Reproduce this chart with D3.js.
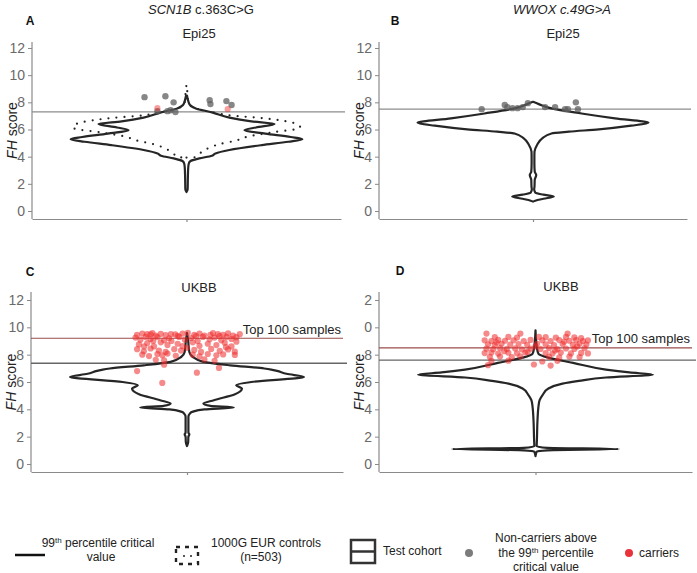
<!DOCTYPE html>
<html>
<head>
<meta charset="utf-8">
<script src="https://cdn.jsdelivr.net/npm/d3@7"></script>
<style>
  body { margin: 0; background: #fff; }
  svg { display: block; font-family: "Liberation Sans", Arial, sans-serif; }
</style>
</head>
<body>
<div id="chart"></div>
<script>
// ---- data ----
const yTicks = [0, 2, 4, 6, 8, 10, 12];
const tickLabels = ["0", "2", "4", "6", "8", "10", "12"];
const tickLabelsD = ["0", "2", "4", "6", "8", "0", "2"]; // labels are clipped in panel D

// violin outlines: [FH score, relative density]
const violinA = [[1.4,0],[1.6,0.01],[2.5,0.012],[3.2,0.015],[3.5,0.02],[3.68,0.035],[3.87,0.11],[4.07,0.22],[4.24,0.25],[4.49,0.37],[4.85,0.65],[5.1,0.88],[5.29,1.0],[5.45,0.9],[5.7,0.68],[5.95,0.5],[6.15,0.6],[6.4,0.76],[6.6,0.56],[6.87,0.37],[7.26,0.22],[7.55,0.08],[7.8,0.03],[8.1,0.015],[8.5,0.004]];
const controlsA = [[3.93,0],[3.97,0.08],[4.2,0.11],[4.5,0.16],[4.93,0.29],[5.17,0.42],[5.5,0.54],[5.8,0.75],[6.08,0.97],[6.2,0.98],[6.32,0.97],[6.62,0.85],[6.86,0.63],[7.03,0.38],[7.23,0.25],[7.45,0.12],[7.7,0.04],[8.0,0.015],[8.7,0.008],[9.3,0]];
const violinB = [[0.69,0],[0.76,0.02],[0.9,0.09],[1.06,0.18],[1.2,0.09],[1.35,0.02],[1.6,0.01],[1.79,0.013],[2.3,0.015],[2.65,0.028],[2.9,0.015],[3.5,0.012],[4.0,0.012],[4.37,0.013],[4.86,0.035],[5.35,0.08],[5.71,0.16],[5.84,0.31],[6.01,0.57],[6.28,0.85],[6.5,1.0],[6.82,0.71],[7.18,0.42],[7.55,0.16],[7.87,0.05],[8.04,0]];
const violinC = [[1.31,0],[1.6,0.01],[2.0,0.012],[2.16,0.02],[2.3,0.012],[3.45,0.012],[3.7,0.025],[3.83,0.05],[4.0,0.15],[4.14,0.4],[4.25,0.2],[4.42,0.14],[4.67,0.23],[5.1,0.41],[5.52,0.47],[5.77,0.42],[6.0,0.55],[6.37,1.0],[6.6,0.85],[6.81,0.77],[6.91,0.72],[6.99,0.66],[7.22,0.37],[7.47,0.14],[7.83,0.05],[8.2,0.02],[9.0,0.01],[9.6,0]];
const violinD = [[0.58,0],[0.9,0.01],[1.0,0.1],[1.09,0.71],[1.18,0.1],[1.3,0.01],[1.75,0.012],[3.2,0.017],[4.18,0.025],[4.67,0.035],[5.04,0.06],[5.52,0.11],[5.88,0.23],[6.08,0.37],[6.33,0.6],[6.54,1.0],[6.7,0.8],[6.91,0.6],[7.4,0.32],[7.78,0.11],[8.07,0.025],[8.5,0.012],[9.78,0]];

// 99th percentile critical values and top-100 cut-offs
const criticalValues = [7.3, 7.5, 7.37, 7.6];
const top100Values = [null, null, 9.2, 8.5];

// points: [horizontal jitter, FH score]
const nonCarriersA = [[-0.163,8.38],[-0.082,8.45],[-0.05,8.0],[0.09,8.16],[0.093,7.87],[0.155,8.09],[0.175,7.8],[-0.113,7.35],[-0.074,7.35],[-0.062,7.42],[-0.043,7.28]];
const carriersA = [[-0.113,7.57],[0.16,7.5]];
const nonCarriersB = [[-0.2,7.5],[-0.11,7.8],[-0.1,7.65],[-0.08,7.57],[-0.06,7.57],[-0.04,7.65],[-0.02,7.94],[0.047,7.65],[0.086,7.65],[0.125,7.5],[0.136,7.5],[0.167,8.0],[0.175,7.5]];
const carriersB = [];
const carriersC = [
  [-0.192,9.45],[-0.172,9.55],[-0.153,9.5],[-0.133,9.58],[-0.12,9.4],[-0.101,9.52],[-0.082,9.44],[-0.062,9.5],[-0.036,9.38],[-0.017,9.55],
  [0.003,9.6],[0.028,9.45],[0.048,9.55],[0.067,9.4],[0.1,9.58],[0.119,9.5],[0.139,9.45],[0.158,9.56],[0.177,9.4],[0.203,9.5],
  [-0.198,9.25],[-0.179,9.1],[-0.159,9.3],[-0.14,9.15],[-0.114,9.28],[-0.088,9.05],[-0.069,9.2],[-0.03,9.3],[-0.008,9.1],[0.016,9.22],
  [0.041,9.0],[0.061,9.3],[0.087,9.12],[0.106,9.25],[0.132,9.05],[0.152,9.3],[0.171,9.15],[0.19,9.28],
  [-0.185,8.75],[-0.153,8.85],[-0.127,8.6],[-0.101,8.9],[-0.075,8.7],[-0.036,8.8],[-0.017,8.62],[0.022,8.9],[0.048,8.65],[0.08,8.8],
  [0.113,8.7],[0.145,8.88],[0.171,8.6],[0.19,8.95],
  [-0.192,8.4],[-0.166,8.25],[-0.14,8.45],[-0.108,8.3],[-0.082,8.2],[-0.049,8.4],[-0.023,8.3],[0.028,8.35],[0.054,8.2],[0.093,8.42],
  [0.126,8.28],[0.158,8.38],[0.184,8.22],
  [-0.172,8.0],[-0.146,7.9],[-0.114,8.05],[-0.095,7.95],[-0.075,8.08],[-0.043,7.92],[0.022,8.0],[0.048,7.88],[0.08,8.05],[0.113,7.95],
  [0.139,8.02],[0.184,7.98],
  [-0.12,7.62],[-0.088,7.58],[0.067,7.65],[0.106,7.55],
  [-0.06,9.0],[0.0,8.5],[0.09,9.45],[-0.13,9.0],[0.15,8.55],[-0.165,8.6],[-0.045,9.48],[0.035,9.35],[-0.14,9.48],[0.125,9.35],
  [-0.192,6.8],[-0.095,5.93],[0.038,6.68],[0.123,7.03],[-0.088,7.27]
];
const carriersD = [
  [-0.188,9.54],[-0.058,9.54],[0.123,9.54],
  [-0.156,9.29],[-0.104,9.3],[-0.071,9.25],[0.013,9.3],[0.039,9.28],[0.078,9.25],[0.117,9.3],[0.149,9.27],[0.175,9.22],
  [-0.195,9.05],[-0.169,9.0],[-0.143,9.08],[-0.117,9.02],[-0.084,9.05],[-0.045,9.0],[-0.019,9.08],[0.026,9.05],[0.058,9.0],[0.091,9.07],
  [0.13,9.02],[0.156,9.06],[0.182,9.0],[0.201,9.04],
  [-0.182,8.76],[-0.156,8.7],[-0.13,8.8],[-0.097,8.74],[-0.065,8.78],[-0.032,8.72],[0.006,8.8],[0.039,8.75],[0.071,8.7],[0.104,8.78],
  [0.143,8.72],[0.169,8.8],[0.195,8.74],
  [-0.188,8.44],[-0.162,8.4],[-0.136,8.48],[-0.11,8.42],[-0.078,8.46],[-0.052,8.38],[-0.019,8.44],[0.019,8.42],[0.052,8.48],[0.084,8.4],
  [0.117,8.45],[0.149,8.42],[0.188,8.47],
  [-0.195,8.12],[-0.169,8.15],[-0.143,8.08],[-0.104,8.14],[-0.071,8.1],[-0.039,8.16],[0.039,8.12],[0.065,8.08],[0.097,8.15],[0.136,8.1],
  [0.175,8.13],[0.201,8.09],
  [-0.175,7.84],[-0.136,7.86],[-0.091,7.82],[-0.058,7.88],[0.052,7.84],[0.091,7.8],[0.13,7.86],[0.169,7.83],
  [-0.169,7.54],[-0.104,7.56],[0.026,7.5],[0.084,7.55],
  [-0.182,7.23],[-0.006,7.28],[0.058,7.2],
  [-0.15,8.9],[0.0,8.6],[0.16,8.6],[-0.12,8.25],[0.11,8.95],[-0.03,8.2],[0.075,8.3]
];

const nonCarrierPoints = [nonCarriersA, nonCarriersB, [], []];
const carrierPoints = [carriersA, carriersB, carriersC, carriersD];
const cohortViolins = [violinA, violinB, violinC, violinD];
const controlViolins = [controlsA, null, null, null];

// ---- layout ----
const panels = [
  {letter: "A", lx: 30, ly: 25, left: 32, right: 341, y0: 211, y12: 48, axTop: 42, axBottom: 219, sub: "Epi25", sx: 199, sy: 38, ticks: tickLabels},
  {letter: "B", lx: 395, ly: 25, left: 379, right: 687, y0: 211, y12: 48, axTop: 42, axBottom: 219, sub: "Epi25", sx: 563, sy: 38, ticks: tickLabels},
  {letter: "C", lx: 30, ly: 276, left: 31, right: 343, y0: 464, y12: 300, axTop: 292, axBottom: 472, sub: "UKBB", sx: 199, sy: 292, ticks: tickLabels, topLabelY: 334},
  {letter: "D", lx: 400, ly: 275, left: 379, right: 692, y0: 464, y12: 300, axTop: 292, axBottom: 472, sub: "UKBB", sx: 561, sy: 291, ticks: tickLabelsD, topLabelY: 343}
];

const svg = d3.select("#chart").append("svg")
  .attr("width", 697)
  .attr("height", 573);

// column titles
const t1 = svg.append("text").attr("x", 201).attr("y", 14).attr("text-anchor", "middle")
  .attr("font-size", 13).attr("fill", "#222");
t1.append("tspan").attr("font-style", "italic").text("SCN1B");
t1.append("tspan").text(" c.363C>G");
svg.append("text").attr("x", 562).attr("y", 14).attr("text-anchor", "middle")
  .attr("font-size", 13).attr("fill", "#222").attr("font-style", "italic")
  .text("WWOX c.49G>A");

panels.forEach((p, i) => {
  const g = svg.append("g");
  const x = d3.scaleLinear().domain([0.4, 1.6]).range([p.left, p.right]);
  const y = d3.scaleLinear().domain([0, 12]).range([p.y0, p.y12]);
  const cx = x(1);
  const w = d3.scaleLinear().domain([0, 1]).range([0, x(1.45) - x(1)]);

  // panel letter and subtitle
  g.append("text").attr("x", p.lx).attr("y", p.ly).attr("text-anchor", "middle")
    .attr("font-size", 12).attr("font-weight", "bold").attr("fill", "#111").text(p.letter);
  g.append("text").attr("x", p.sx).attr("y", p.sy).attr("text-anchor", "middle")
    .attr("font-size", 13).attr("fill", "#222").text(p.sub);

  // axes
  g.append("line").attr("x1", p.left).attr("x2", p.left)
    .attr("y1", p.axTop).attr("y2", p.axBottom)
    .attr("stroke", "#8a8a8a").attr("stroke-width", 1.2);
  const yAxis = g.append("g").attr("transform", `translate(${p.left},0)`)
    .call(d3.axisLeft(y).tickValues(yTicks).tickFormat((d, k) => p.ticks[k]).tickSize(4).tickPadding(3));
  yAxis.select(".domain").remove();
  yAxis.selectAll("line").attr("stroke", "#8a8a8a");
  yAxis.selectAll("text").attr("font-size", 14).attr("fill", "#6a6a6a")
    .attr("font-family", "Liberation Sans, Arial, sans-serif");

  const xAxis = g.append("g").attr("transform", `translate(0,${p.axBottom})`)
    .call(d3.axisBottom(x).tickValues([1]).tickFormat("").tickSize(3).tickSizeOuter(0));
  xAxis.selectAll("path, line").attr("stroke", "#8a8a8a").attr("stroke-width", 1.2);

  const yt = g.append("text")
    .attr("transform", `translate(${p.left - 15},${(p.axTop + p.axBottom) / 2}) rotate(-90)`)
    .attr("text-anchor", "middle").attr("font-size", 14).attr("fill", "#222");
  yt.append("tspan").attr("font-style", "italic").text("FH");
  yt.append("tspan").text(" score");

  // reference lines
  g.append("line").attr("x1", p.left).attr("x2", p.right + 4)
    .attr("y1", y(criticalValues[i])).attr("y2", y(criticalValues[i]))
    .attr("stroke", i < 2 ? "#8c8c8c" : "#666").attr("stroke-width", 1.4);
  if (top100Values[i] !== null) {
    g.append("line").attr("x1", p.left).attr("x2", p.right)
      .attr("y1", y(top100Values[i])).attr("y2", y(top100Values[i]))
      .attr("stroke", "#9a4c4c").attr("stroke-width", 1.2);
    g.append("text").attr("x", p.right - 2).attr("y", p.topLabelY).attr("text-anchor", "end")
      .attr("font-size", 13).attr("fill", "#222").text("Top 100 samples");
  }

  const area = d3.area()
    .y(d => y(d[0]))
    .x0(d => cx - w(d[1]))
    .x1(d => cx + w(d[1]))
    .curve(d3.curveMonotoneY);

  // controls (dotted)
  if (controlViolins[i]) {
    g.append("path").datum(controlViolins[i]).attr("d", area)
      .attr("fill", "none").attr("stroke", "#222").attr("stroke-width", 2.2)
      .attr("stroke-linecap", "round").attr("stroke-dasharray", "0,8");
  }

  // test cohort violin
  g.append("path").datum(cohortViolins[i]).attr("d", area)
    .attr("fill", "none").attr("stroke", "#262626").attr("stroke-width", 2.2)
    .attr("stroke-linejoin", "round");

  // points
  g.selectAll(".nc").data(nonCarrierPoints[i]).join("circle")
    .attr("cx", d => x(1 + d[0])).attr("cy", d => y(d[1])).attr("r", 3.2)
    .attr("fill", "#5f5f5f").attr("fill-opacity", 0.75);
  g.selectAll(".car").data(carrierPoints[i]).join("circle")
    .attr("cx", d => x(1 + d[0])).attr("cy", d => y(d[1])).attr("r", 3.1)
    .attr("fill", "#ee2a2a").attr("fill-opacity", i < 2 ? 0.45 : 0.55);
});

// ---- legend ----
const lg = svg.append("g").attr("font-size", 12).attr("fill", "#222");
lg.append("line").attr("x1", 15).attr("x2", 45).attr("y1", 555).attr("y2", 555)
  .attr("stroke", "#111").attr("stroke-width", 2.5);
const l1 = lg.append("text").attr("x", 98).attr("y", 547).attr("text-anchor", "middle");
l1.append("tspan").text("99");
l1.append("tspan").attr("font-size", 8).attr("dy", -4).text("th");
l1.append("tspan").attr("dy", 4).text(" percentile critical");
lg.append("text").attr("x", 101).attr("y", 561).attr("text-anchor", "middle").text("value");

lg.append("rect").attr("x", 176).attr("y", 547).attr("width", 22).attr("height", 17)
  .attr("fill", "none").attr("stroke", "#222").attr("stroke-width", 2.4)
  .attr("stroke-dasharray", "4,5");
lg.append("circle").attr("cx", 184).attr("cy", 556).attr("r", 1).attr("fill", "#222");
lg.append("circle").attr("cx", 191).attr("cy", 556).attr("r", 1).attr("fill", "#222");
lg.append("text").attr("x", 266).attr("y", 547).attr("text-anchor", "middle").text("1000G EUR controls");
lg.append("text").attr("x", 261).attr("y", 561).attr("text-anchor", "middle").text("(n=503)");

lg.append("rect").attr("x", 351).attr("y", 540).attr("width", 24).attr("height", 23)
  .attr("fill", "none").attr("stroke", "#333").attr("stroke-width", 2.5);
lg.append("line").attr("x1", 351).attr("x2", 375).attr("y1", 551.5).attr("y2", 551.5)
  .attr("stroke", "#333").attr("stroke-width", 2.5);
lg.append("text").attr("x", 383).attr("y", 555).text("Test cohort");

lg.append("circle").attr("cx", 469).attr("cy", 553).attr("r", 4).attr("fill", "#7c7c7c");
lg.append("text").attr("x", 546).attr("y", 542).attr("text-anchor", "middle").text("Non-carriers above");
const l2 = lg.append("text").attr("x", 546).attr("y", 557).attr("text-anchor", "middle");
l2.append("tspan").text("the 99");
l2.append("tspan").attr("font-size", 8).attr("dy", -4).text("th");
l2.append("tspan").attr("dy", 4).text(" percentile");
lg.append("text").attr("x", 546).attr("y", 571).attr("text-anchor", "middle").text("critical value");

lg.append("circle").attr("cx", 629).attr("cy", 553).attr("r", 4).attr("fill", "#e8333a");
lg.append("text").attr("x", 639).attr("y", 557).text("carriers");
</script>
</body>
</html>
